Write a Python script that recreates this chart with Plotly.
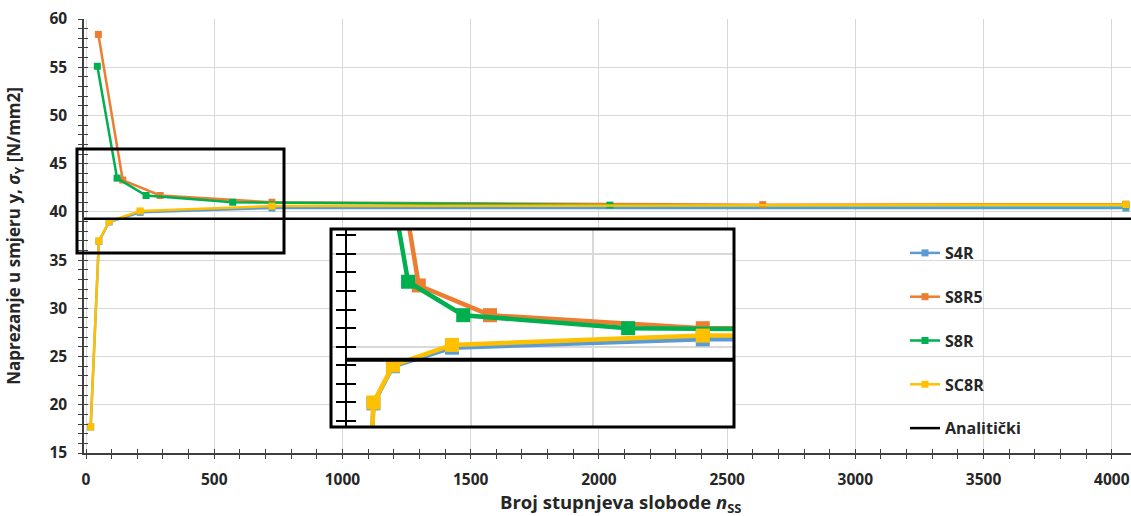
import plotly.graph_objects as go

# ---------------- data ----------------
series_names = ["S4R", "S8R5", "S8R", "SC8R"]
series_colors = ["#5B9BD5", "#ED7D31", "#00B050", "#FFC000"]

x_s4r = [18, 50, 90, 211, 725, 4055]
y_s4r = [17.7, 36.95, 38.95, 39.95, 40.4, 40.4]

x_s8r5 = [48, 143, 289, 725, 2639, 4055]
y_s8r5 = [58.4, 43.3, 41.7, 41.0, 40.75, 40.8]

x_s8r = [44, 121, 234, 572, 2043, 4055]
y_s8r = [55.1, 43.5, 41.7, 41.0, 40.7, 40.7]

x_sc8r = [18, 50, 90, 211, 725, 4055]
y_sc8r = [17.7, 37.0, 39.0, 40.1, 40.6, 40.75]

analytic_name = "Analitički"
analytic_value = 39.3

x_title = "Broj stupnjeva slobode <i>n</i><sub>SS</sub>"
y_title = "Naprezanje u smjeru y, <i>σ</i><sub>Y</sub> [N/mm2]"

# ---------------- layout geometry (screen pixels) ----------------
W, H = 1131, 516
PLOT_L, PLOT_R, PLOT_T, PLOT_B = 84, 1131, 19, 453
L, T, R, B = PLOT_L, PLOT_T, W - PLOT_R, H - PLOT_B
PW, PH = PLOT_R - PLOT_L, PLOT_B - PLOT_T


def fx(p):
    return (p - PLOT_L) / PW


def fy(p):
    return (PLOT_B - p) / PH


main_xrange = [-8, 4075]
main_yrange = [15, 60]
inset_xrange = [-37, 789]
inset_yrange = [35.68, 46.34]
inset_xgrid = [250, 500]
inset_axis_pos = fx(346)
inset_axis_xval = inset_xrange[0] + (346 - 331) / (734 - 331) * (inset_xrange[1] - inset_xrange[0])

FONT = "Open Sans"
GRID = "#D9D9D9"
AX = "#404040"
TXT = "#262626"

xs = [x_s4r, x_s8r5, x_s8r, x_sc8r]
ys = [y_s4r, y_s8r5, y_s8r, y_sc8r]

fig = go.Figure()

# main traces
for i, (name, col) in enumerate(zip(series_names, series_colors)):
    fig.add_trace(go.Scatter(
        x=xs[i], y=ys[i], name=name, mode="lines+markers",
        line=dict(color=col, width=2.5),
        marker=dict(symbol="square", size=7, color=col),
        legendgroup=name, xaxis="x", yaxis="y"))

fig.add_trace(go.Scatter(
    x=main_xrange, y=[analytic_value, analytic_value], name=analytic_name,
    mode="lines", line=dict(color="black", width=2.5),
    legendgroup=analytic_name, xaxis="x", yaxis="y"))

# overlay for crossing ticks on main axes
fig.add_trace(go.Scatter(x=[main_xrange[0]], y=[main_yrange[0]], mode="markers",
                         marker=dict(opacity=0), showlegend=False, hoverinfo="skip",
                         xaxis="x3", yaxis="y3"))

# inset traces
for i, (name, col) in enumerate(zip(series_names, series_colors)):
    fig.add_trace(go.Scatter(
        x=xs[i], y=ys[i], name=name, mode="lines+markers", showlegend=False,
        line=dict(color=col, width=4.5),
        marker=dict(symbol="square", size=14, color=col),
        xaxis="x2", yaxis="y2"))

fig.add_trace(go.Scatter(
    x=[inset_axis_xval, inset_xrange[1]], y=[analytic_value, analytic_value],
    mode="lines", line=dict(color="black", width=4), showlegend=False,
    xaxis="x2", yaxis="y2"))

fig.add_trace(go.Scatter(x=[inset_xrange[0]], y=[inset_yrange[0]], mode="markers",
                         marker=dict(opacity=0), showlegend=False, hoverinfo="skip",
                         xaxis="x2", yaxis="y4"))

tickfont = dict(family=FONT, size=15.5, color=TXT, weight="bold")

fig.update_layout(
    width=W, height=H,
    margin=dict(l=L, r=R, t=T, b=B, autoexpand=False),
    paper_bgcolor="white", plot_bgcolor="white",
    showlegend=True,
    legend=dict(x=fx(905), y=fy(236), xanchor="left", yanchor="top",
                bgcolor="rgba(0,0,0,0)", tracegroupgap=20,
                font=dict(family=FONT, size=16, color=TXT, weight="bold"),
                itemwidth=30),
    xaxis=dict(domain=[0, 1], range=main_xrange, dtick=500, tick0=0,
               showgrid=True, gridcolor=GRID, gridwidth=1, zeroline=False,
               showline=True, linecolor=AX, linewidth=1.5,
               ticks="outside", ticklen=4, tickcolor=AX, tickwidth=1.2,
               minor=dict(dtick=100, ticks="outside", ticklen=4, tickcolor=AX, showgrid=False),
               tickfont=tickfont, ticklabelstandoff=8),
    yaxis=dict(domain=[0, 1], range=main_yrange, dtick=5, tick0=0,
               showgrid=True, gridcolor=GRID, gridwidth=1, zeroline=False,
               showline=True, linecolor=AX, linewidth=1.5,
               ticks="outside", ticklen=4, tickcolor=AX, tickwidth=1.2,
               minor=dict(dtick=1, ticks="outside", ticklen=4, tickcolor=AX, showgrid=False),
               tickfont=tickfont, ticklabelstandoff=8,
               title=dict(text=y_title, standoff=24,
                          font=dict(family=FONT, size=17, color=TXT, weight="bold"))),
    xaxis3=dict(overlaying="x", anchor="y3", range=main_xrange, dtick=500, tick0=0,
                showgrid=False, zeroline=False, showline=False, showticklabels=False,
                ticks="inside", ticklen=4, tickcolor=AX, tickwidth=1.2,
                minor=dict(dtick=100, ticks="inside", ticklen=4, tickcolor=AX, showgrid=False)),
    yaxis3=dict(overlaying="y", anchor="x3", range=main_yrange, dtick=5, tick0=0,
                showgrid=False, zeroline=False, showline=False, showticklabels=False,
                ticks="inside", ticklen=4, tickcolor=AX, tickwidth=1.2,
                minor=dict(dtick=1, ticks="inside", ticklen=4, tickcolor=AX, showgrid=False)),
    xaxis2=dict(domain=[fx(331), fx(734)], range=inset_xrange, anchor="y2",
                tickvals=inset_xgrid, showticklabels=False, ticks="",
                showgrid=True, gridcolor=GRID, gridwidth=1.5, zeroline=False, showline=False),
    yaxis2=dict(domain=[fy(427), fy(229)], range=inset_yrange, anchor="free",
                position=inset_axis_pos, dtick=5, tick0=0,
                showgrid=True, gridcolor=GRID, gridwidth=1.5, zeroline=False,
                showline=True, linecolor="black", linewidth=2,
                showticklabels=False, ticks="outside", ticklen=9, tickcolor="black", tickwidth=2,
                minor=dict(dtick=1, ticks="outside", ticklen=9, tickcolor="black", tickwidth=2,
                           showgrid=False)),
    yaxis4=dict(overlaying="y2", anchor="free", position=inset_axis_pos,
                range=inset_yrange, dtick=5, tick0=0,
                showgrid=False, zeroline=False, showline=False, showticklabels=False,
                ticks="inside", ticklen=9, tickcolor="black", tickwidth=2,
                minor=dict(dtick=1, ticks="inside", ticklen=9, tickcolor="black", tickwidth=2,
                           showgrid=False)),
    shapes=[
        dict(type="rect", xref="paper", yref="paper",
             x0=fx(77), x1=fx(284), y0=fy(253), y1=fy(149),
             line=dict(color="black", width=3), fillcolor="rgba(0,0,0,0)", layer="above"),
        dict(type="rect", xref="paper", yref="paper",
             x0=fx(331), x1=fx(734), y0=fy(427), y1=fy(229),
             line=dict(color="black", width=3), fillcolor="rgba(0,0,0,0)", layer="above"),
    ],
    annotations=[
        dict(text=x_title, xref="paper", yref="paper", x=fx(620), y=fy(503),
             xanchor="center", yanchor="middle", showarrow=False,
             font=dict(family=FONT, size=18.5, color=TXT, weight="bold")),
    ],
)

fig.write_html(
    "out.html",
    config={"displayModeBar": False},
    post_script="document.body.style.margin='0';document.body.style.overflow='hidden';",
)
